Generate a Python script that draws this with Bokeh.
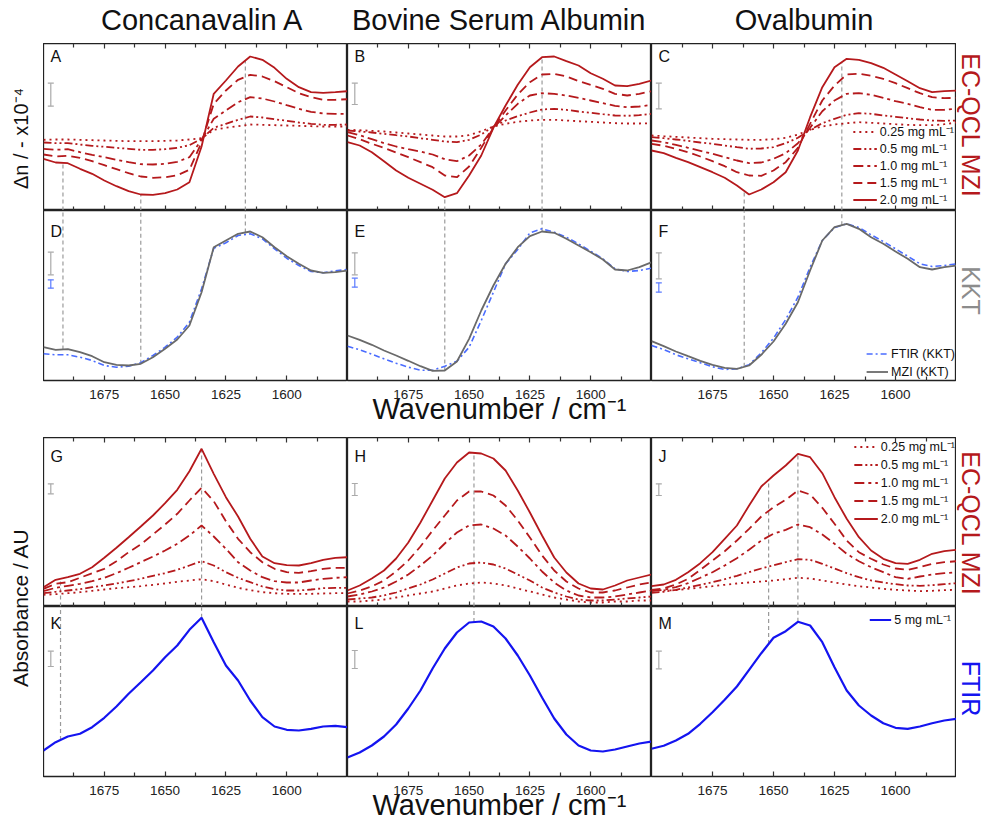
import numpy as np
from bokeh.plotting import figure
from bokeh.models import Range1d, FixedTicker, LinearAxis, Legend, LegendItem, Label
from bokeh.layouts import row, column
from bokeh.embed import file_html
from bokeh.resources import INLINE
from bokeh.core.properties import value

# ---------------------------------------------------------------- data
wavenumber = [1700, 1695, 1690, 1685, 1680, 1675, 1670, 1665, 1660, 1655, 1650, 1645, 1640,
              1635, 1630, 1625, 1620, 1615, 1610, 1605, 1600, 1595, 1590, 1585, 1580, 1575]
x_ticks = [1675, 1650, 1625, 1600]
x_minor_ticks = [1687.5, 1662.5, 1637.5, 1612.5, 1587.5]
proteins = ["Concanavalin A", "Bovine Serum Albumin", "Ovalbumin"]
concentration_labels = ["0.25 mg mL\u207b\u00b9", "0.5 mg mL\u207b\u00b9", "1.0 mg mL\u207b\u00b9",
                        "1.5 mg mL\u207b\u00b9", "2.0 mg mL\u207b\u00b9"]
kkt_labels = ["FTIR (KKT)", "MZI (KKT)"]
ftir_label = "5 mg mL\u207b\u00b9"

# refractive index change (EC-QCL MZI), arbitrary units
conA_dn_025 = [70.7, 71.0, 71.0, 70.7, 70.3, 70.0, 69.7, 69.3, 69.3, 69.3, 69.7, 70.0, 71.0, 72.3, 80.7, 82.7, 84.3, 86.0, 85.7, 85.3, 85.0, 84.7, 84.3, 84.0, 84.0, 84.0]
conA_dn_05 = [68.0, 67.3, 67.3, 66.0, 64.7, 63.7, 62.7, 61.7, 60.7, 60.7, 61.3, 62.7, 65.3, 71.7, 82.7, 86.7, 90.7, 94.0, 93.0, 91.3, 89.7, 88.0, 86.7, 85.7, 85.7, 86.0]
conA_dn_10 = [61.7, 60.7, 61.3, 58.3, 55.7, 53.3, 50.7, 48.3, 46.3, 46.0, 46.7, 48.7, 53.3, 70.7, 91.7, 100.0, 108.3, 113.3, 112.0, 109.0, 105.3, 101.7, 98.7, 97.0, 96.7, 96.7]
conA_dn_15 = [56.0, 54.0, 54.7, 52.7, 49.3, 45.3, 41.3, 37.3, 34.0, 32.7, 33.3, 35.3, 40.7, 68.3, 106.7, 120.0, 130.7, 135.7, 134.0, 129.3, 123.3, 117.3, 113.3, 110.7, 110.7, 111.3]
conA_dn_20 = [51.7, 48.0, 47.3, 41.7, 36.7, 30.0, 24.3, 19.3, 16.0, 15.7, 17.3, 21.0, 28.3, 64.0, 116.7, 130.0, 144.0, 154.0, 150.7, 142.7, 131.7, 123.3, 118.3, 117.7, 118.3, 119.3]

bsa_dn_025 = [80.7, 80.3, 79.7, 79.0, 78.0, 77.0, 76.0, 75.0, 74.0, 74.0, 75.3, 79.3, 84.0, 86.7, 88.7, 90.0, 90.7, 90.7, 90.0, 89.3, 88.7, 88.0, 87.3, 87.0, 87.0, 87.3]
bsa_dn_05 = [80.0, 79.0, 78.0, 76.7, 75.3, 74.0, 72.3, 70.7, 69.0, 68.3, 70.7, 76.0, 84.0, 90.0, 94.3, 98.0, 101.0, 101.7, 100.7, 99.0, 97.7, 96.3, 95.0, 94.7, 95.3, 96.7]
bsa_dn_10 = [78.3, 75.3, 71.3, 67.3, 64.0, 61.3, 59.0, 56.0, 51.3, 49.3, 55.0, 66.0, 82.7, 95.0, 106.7, 115.0, 117.3, 116.7, 115.0, 112.7, 110.0, 107.3, 104.7, 103.3, 104.0, 105.7]
bsa_dn_15 = [75.0, 71.3, 66.7, 62.7, 58.0, 53.3, 48.3, 43.3, 35.0, 33.3, 44.0, 62.7, 82.7, 100.0, 116.0, 128.3, 136.0, 136.7, 134.0, 129.3, 125.7, 121.7, 116.7, 115.0, 116.7, 119.3]
bsa_dn_20 = [68.3, 65.0, 58.3, 49.3, 40.0, 32.7, 26.7, 20.7, 13.3, 17.3, 35.0, 55.0, 82.7, 105.0, 125.7, 143.3, 153.3, 154.0, 149.3, 145.0, 137.3, 131.7, 125.0, 124.3, 126.7, 130.0]

ova_dn_025 = [75.0, 74.3, 73.7, 73.0, 72.3, 71.7, 71.3, 71.0, 70.7, 70.7, 71.3, 72.7, 76.0, 80.7, 84.0, 86.0, 87.3, 88.3, 87.7, 87.0, 86.3, 85.7, 85.3, 85.3, 86.3, 88.0]
ova_dn_05 = [73.3, 72.3, 71.0, 69.7, 68.0, 66.7, 65.0, 63.3, 61.7, 62.0, 63.3, 67.3, 72.7, 80.7, 87.3, 91.7, 95.7, 97.3, 96.7, 95.0, 93.7, 92.3, 91.0, 90.0, 89.7, 90.0]
ova_dn_10 = [70.0, 68.3, 65.7, 62.7, 59.7, 56.7, 53.3, 50.0, 47.3, 48.0, 51.7, 57.3, 67.3, 82.7, 99.3, 110.0, 116.7, 117.3, 115.7, 112.7, 109.3, 106.7, 103.3, 100.7, 100.7, 101.7]
ova_dn_15 = [66.7, 64.7, 61.7, 58.3, 54.0, 49.3, 44.3, 38.3, 35.0, 34.7, 40.0, 48.3, 62.7, 86.7, 110.0, 125.0, 136.0, 136.7, 134.7, 131.7, 127.3, 122.3, 117.3, 113.3, 112.3, 112.7]
ova_dn_20 = [60.0, 57.3, 52.7, 48.3, 43.3, 38.3, 32.7, 25.0, 16.0, 21.0, 28.3, 38.3, 60.0, 93.3, 123.3, 143.3, 151.7, 150.7, 147.3, 142.7, 136.0, 129.3, 122.3, 118.3, 119.3, 120.0]

# Kramers-Kronig transformed spectra, arbitrary units
conA_kkt_mzi = [33.3, 30.7, 31.3, 28.3, 24.3, 18.3, 15.7, 15.0, 16.7, 23.3, 31.7, 41.0, 55.0, 88.3, 133.3, 140.0, 146.7, 149.0, 143.3, 133.3, 124.3, 116.7, 110.0, 107.7, 108.3, 110.0]
conA_kkt_ftir = [26.7, 25.7, 25.7, 23.3, 20.0, 15.0, 13.3, 14.3, 17.7, 25.0, 33.3, 43.3, 58.3, 91.7, 132.3, 137.7, 145.0, 146.7, 141.7, 131.7, 122.3, 115.0, 109.0, 107.7, 109.7, 111.0]
bsa_kkt_mzi = [45.0, 40.7, 35.7, 30.0, 25.0, 19.7, 14.3, 9.7, 10.0, 19.0, 41.7, 70.0, 95.0, 116.7, 133.3, 144.3, 149.0, 147.7, 141.7, 135.0, 128.3, 121.0, 111.0, 110.0, 113.3, 118.3]
bsa_kkt_ftir = [34.3, 30.7, 26.3, 21.7, 17.3, 13.3, 10.3, 10.3, 14.3, 19.3, 33.3, 60.0, 88.3, 116.7, 131.0, 147.7, 151.7, 148.3, 143.3, 136.7, 129.3, 121.7, 111.7, 109.0, 110.0, 112.3]
ova_kkt_mzi = [39.3, 34.3, 29.0, 24.3, 19.7, 15.7, 12.7, 11.7, 15.0, 25.7, 39.0, 56.7, 78.3, 110.0, 140.0, 153.3, 156.7, 151.7, 143.3, 136.7, 129.0, 121.7, 113.3, 111.0, 113.3, 115.0]
ova_kkt_ftir = [35.0, 31.0, 25.7, 21.7, 17.7, 13.7, 11.0, 11.7, 15.7, 27.7, 42.3, 61.0, 83.3, 113.3, 140.0, 153.0, 156.7, 153.0, 145.7, 139.0, 131.7, 124.3, 116.7, 114.0, 115.0, 116.7]

# absorbance (EC-QCL MZI), arbitrary units
conA_abs_025 = [11.7, 12.3, 13.3, 14.3, 15.7, 17.0, 18.3, 19.3, 20.3, 21.7, 23.0, 24.7, 26.0, 27.3, 25.3, 22.0, 18.7, 16.3, 14.3, 13.3, 12.7, 12.7, 12.7, 13.0, 13.3, 13.3]
conA_abs_05 = [13.3, 14.7, 16.0, 17.3, 19.3, 21.0, 23.0, 25.3, 27.7, 30.7, 33.3, 36.7, 41.0, 45.3, 41.0, 34.3, 28.7, 24.3, 20.0, 17.3, 16.0, 16.0, 17.0, 18.3, 18.7, 18.7]
conA_abs_10 = [15.3, 18.7, 20.7, 22.7, 25.3, 28.7, 33.3, 38.7, 44.3, 50.0, 56.0, 62.7, 71.0, 81.0, 70.0, 57.7, 44.3, 36.0, 29.3, 25.3, 24.0, 24.0, 26.0, 27.7, 28.7, 29.3]
conA_abs_15 = [17.7, 22.7, 24.3, 28.7, 33.3, 37.7, 45.3, 54.3, 62.0, 72.0, 82.0, 92.7, 106.0, 118.7, 105.3, 85.3, 67.7, 54.3, 44.3, 37.7, 34.3, 33.7, 35.3, 37.7, 38.7, 38.7]
conA_abs_20 = [19.3, 26.7, 29.3, 32.7, 39.3, 48.7, 58.7, 69.3, 80.0, 91.0, 103.3, 116.7, 135.3, 157.7, 132.7, 109.3, 90.0, 67.7, 50.0, 43.3, 41.3, 41.0, 43.3, 46.7, 48.7, 49.3]

bsa_abs_025 = [5, 5, 6, 7, 9, 11, 13, 15, 18, 21, 23, 24, 23, 21, 18, 15, 12, 9, 7, 5, 4, 4, 5, 5, 6, 6]
bsa_abs_05 = [7, 8, 9, 11, 14, 18, 22, 27, 33, 39, 43, 44, 42, 38, 32, 26, 19, 14, 10, 7, 6, 6, 7, 8, 9, 10]
bsa_abs_10 = [10, 12, 15, 19, 25, 32, 41, 51, 63, 74, 81, 82, 78, 71, 60, 48, 35, 24, 16, 11, 9, 9, 10, 12, 14, 16]
bsa_abs_15 = [13, 16, 20, 26, 35, 46, 60, 76, 91, 106, 115, 115, 111, 101, 86, 69, 51, 36, 25, 18, 14, 14, 16, 19, 22, 24]
bsa_abs_20 = [16, 21, 28, 36, 48, 64, 84, 106, 128, 144, 154, 153, 148, 136, 116, 94, 71, 49, 34, 23, 18, 17, 21, 26, 29, 32]

ova_abs_025 = [16.7, 16.0, 16.3, 17.7, 19.0, 20.3, 21.7, 23.0, 24.0, 25.0, 26.0, 27.3, 28.7, 28.0, 26.0, 24.0, 22.0, 20.3, 19.0, 17.7, 16.7, 16.0, 15.3, 15.7, 16.3, 16.7]
ova_abs_05 = [13.7, 14.7, 16.7, 19.0, 21.7, 24.3, 27.3, 30.7, 34.3, 38.0, 41.3, 44.3, 47.3, 46.7, 42.7, 38.0, 33.3, 29.3, 26.0, 24.0, 22.3, 21.0, 20.7, 21.3, 22.3, 23.3]
ova_abs_10 = [15.3, 16.7, 19.3, 23.3, 28.7, 34.3, 41.0, 48.3, 56.7, 66.0, 72.7, 76.7, 82.0, 79.3, 72.0, 62.7, 52.7, 45.3, 39.3, 34.3, 29.3, 27.7, 30.0, 32.0, 33.3, 34.3]
ova_abs_15 = [16.7, 18.0, 22.0, 27.7, 36.7, 46.0, 55.3, 66.0, 77.7, 90.0, 99.3, 106.7, 116.0, 112.0, 98.7, 82.7, 66.0, 54.3, 47.7, 42.0, 38.0, 36.7, 39.3, 42.7, 44.3, 45.3]
ova_abs_20 = [20.3, 22.0, 26.7, 34.3, 43.3, 54.3, 67.7, 81.0, 101.0, 120.0, 131.0, 141.0, 152.7, 149.3, 133.3, 109.3, 87.7, 69.3, 56.0, 47.7, 43.3, 42.7, 46.7, 52.7, 55.3, 56.7]

# FTIR absorbance (5 mg/mL), arbitrary units
conA_ftir = [26.0, 34.3, 40.0, 42.7, 49.3, 58.7, 70.0, 82.7, 94.3, 106.0, 119.3, 131.0, 146.7, 158.7, 134.3, 111.0, 96.0, 76.0, 59.3, 50.0, 46.7, 46.0, 47.7, 50.0, 50.7, 49.3]
bsa_ftir = [19, 24, 31, 40, 52, 68, 86, 108, 128, 144, 154, 155, 150, 138, 121, 101, 79, 58, 42, 31, 26, 25, 27, 30, 33, 35]
ova_ftir = [27.7, 30.7, 36.0, 42.7, 52.7, 64.3, 76.7, 90.0, 106.7, 123.3, 138.7, 145.3, 154.7, 151.0, 134.3, 109.3, 86.0, 71.0, 61.0, 53.3, 48.7, 47.7, 50.0, 53.3, 56.0, 57.7]

# marked band positions (cm-1)
dn_marks = [[1692, 1660, 1617], [1660, 1620], [1662, 1622]]
abs_marks = [[1693, 1635], [1648], [1652, 1640]]

# scale bars: (top, bottom) in the panel's units, drawn at scale_bar_wn
scale_bar_wn = 1697
dn_bars = [(127.3, 104.3), (127.3, 106.0), (127.3, 101.7)]
kkt_mzi_bars = [(128.3, 105.7), (127.7, 105.7), (127.7, 101.7)]
kkt_ftir_bars = [(100.7, 92.3), (102.3, 93.3), (97.7, 88.3)]
abs_bars = [(122.7, 112.7), (123.0, 111.0), (122.7, 111.0)]
ftir_bars = [(125.3, 110.0), (126.0, 108.0), (125.3, 107.7)]

dn_sets = [[conA_dn_025, conA_dn_05, conA_dn_10, conA_dn_15, conA_dn_20],
           [bsa_dn_025, bsa_dn_05, bsa_dn_10, bsa_dn_15, bsa_dn_20],
           [ova_dn_025, ova_dn_05, ova_dn_10, ova_dn_15, ova_dn_20]]
kkt_mzi = [conA_kkt_mzi, bsa_kkt_mzi, ova_kkt_mzi]
kkt_ftir = [conA_kkt_ftir, bsa_kkt_ftir, ova_kkt_ftir]
abs_sets = [[conA_abs_025, conA_abs_05, conA_abs_10, conA_abs_15, conA_abs_20],
            [bsa_abs_025, bsa_abs_05, bsa_abs_10, bsa_abs_15, bsa_abs_20],
            [ova_abs_025, ova_abs_05, ova_abs_10, ova_abs_15, ova_abs_20]]
ftir_abs = [conA_ftir, bsa_ftir, ova_ftir]

# ---------------------------------------------------------------- style
FONT = "Liberation Sans"
RED = "#B5191C"
GREY_LINE = "#6a6a6a"
BLUE = "#1414F0"
BLUE_KKT = "#4a6cff"
GUIDE = "#9a9a9a"
BAR_GREY = "#aaaaaa"
BAR_BLUE = "#5a7aff"
CONC_DASH = ["2 4", "8 3 2 3 2 3", "10 4 3 4", "9 5", "solid"]

COL_W = [304, 304, 305]
FRAME_H = [167, 170, 169, 170]
BOTTOM_B = [0, 57, 0, 48]
LEFT_W, RIGHT_W, TITLE_H = 43, 28, 43
LETTERS = ["ABC", "DEF", "GHJ", "KLM"]
LETTER_DY = [-4, -12, -10, -8]
TITLE_SHIFT = [7, 0, 0]


def style_axis(ax, labels):
    ax.ticker = FixedTicker(ticks=x_ticks, minor_ticks=x_minor_ticks)
    ax.axis_line_color = None
    ax.major_tick_in = 5
    ax.major_tick_out = 0
    ax.minor_tick_in = 4
    ax.minor_tick_out = 0
    ax.major_tick_line_color = "#333333"
    ax.minor_tick_line_color = "#333333"
    ax.major_tick_line_width = 1.2
    ax.minor_tick_line_width = 1.2
    if labels:
        ax.major_label_text_font = FONT
        ax.major_label_text_font_size = "13.5px"
        ax.major_label_text_color = "#222222"
        ax.major_label_standoff = 9
    else:
        ax.major_label_text_color = None
        ax.major_label_standoff = 0


def make_panel(ci, ri):
    p = figure(width=COL_W[ci], height=FRAME_H[ri] + BOTTOM_B[ri],
               x_range=Range1d(1700, 1575), y_range=Range1d(0, FRAME_H[ri]),
               output_backend="svg", toolbar_location=None,
               min_border_left=0, min_border_right=0, min_border_top=0,
               min_border_bottom=BOTTOM_B[ri])
    p.title.visible = False
    p.grid.visible = False
    p.yaxis.visible = False
    p.outline_line_color = "#222222"
    p.outline_line_width = 1.3
    if ri in (0, 2):
        p.xaxis[0].fixed_location = 0
        p.add_layout(LinearAxis(fixed_location=FRAME_H[ri]), "above")
        for ax in p.xaxis:
            style_axis(ax, False)
    else:
        for ax in p.xaxis:
            style_axis(ax, True)
    p.add_layout(Label(x=1700, y=FRAME_H[ri], x_offset=7, y_offset=LETTER_DY[ri],
                       text=LETTERS[ri][ci], text_baseline="top", text_align="left",
                       text_font=FONT, text_font_size="16px", text_color="#111111"))
    return p


def at(w, ys):
    return float(np.interp(w, wavenumber[::-1], ys[::-1]))


def scale_bar(p, top, bottom, color):
    p.segment(x0=[scale_bar_wn], y0=[bottom], x1=[scale_bar_wn], y1=[top],
              line_color=color, line_width=1.2)
    p.scatter(x=[scale_bar_wn, scale_bar_wn], y=[bottom, top], marker="dash", size=6,
              line_color=color, line_width=1.2)


def guides(p, marks, curve, upper):
    for w in marks:
        yc = at(w, curve)
        if upper:
            y0, y1 = 0, yc
        else:
            y0, y1 = yc, p.y_range.end
        p.segment(x0=[w], y0=[y0], x1=[w], y1=[y1], line_color=GUIDE,
                  line_dash="4 3", line_width=1.2)


def legend(p, items, loc, margin, padding, spacing, glyph_w):
    lg = Legend(items=items, location=loc, margin=margin, padding=padding, spacing=spacing,
                glyph_width=glyph_w, glyph_height=15, label_height=15, label_standoff=3,
                label_text_font=FONT, label_text_font_size="12.5px",
                label_text_color="#111111", background_fill_alpha=0,
                border_line_color=None)
    p.add_layout(lg)


def x_title(ax):
    ax.axis_label = "Wavenumber / cm\u207b\u00b9"
    ax.axis_label_text_font = FONT
    ax.axis_label_text_font_size = "29px"
    ax.axis_label_text_font_style = "normal"
    ax.axis_label_text_color = "#111111"
    ax.axis_label_standoff = -9


rows = [[], [], [], []]
for ci in range(3):
    # row 1: EC-QCL MZI refractive index change
    p = make_panel(ci, 0)
    guides(p, dn_marks[ci], dn_sets[ci][4], True)
    rs = [p.line(wavenumber, dn_sets[ci][k], line_color=RED, line_width=1.8,
                 line_dash=CONC_DASH[k]) for k in range(5)]
    scale_bar(p, *dn_bars[ci], BAR_GREY)
    if ci == 2:
        legend(p, [LegendItem(label=concentration_labels[k], renderers=[rs[k]]) for k in range(5)],
               "bottom_right", 2, 3, 0, 24)
    rows[0].append(p)

    # row 2: KKT
    p = make_panel(ci, 1)
    guides(p, dn_marks[ci], kkt_mzi[ci], False)
    rf = p.line(wavenumber, kkt_ftir[ci], line_color=BLUE_KKT, line_width=1.6, line_dash="6 3 2 3")
    rm = p.line(wavenumber, kkt_mzi[ci], line_color=GREY_LINE, line_width=1.8)
    scale_bar(p, *kkt_mzi_bars[ci], BAR_GREY)
    scale_bar(p, *kkt_ftir_bars[ci], BAR_BLUE)
    if ci == 1:
        x_title(p.below[0])
    if ci == 2:
        legend(p, [LegendItem(label=kkt_labels[0], renderers=[rf]),
                   LegendItem(label=kkt_labels[1], renderers=[rm])],
               "bottom_right", 1, 3, 3, 22)
    rows[1].append(p)

    # row 3: EC-QCL MZI absorbance
    p = make_panel(ci, 2)
    guides(p, abs_marks[ci], abs_sets[ci][4], True)
    rs = [p.line(wavenumber, abs_sets[ci][k], line_color=RED, line_width=1.8,
                 line_dash=CONC_DASH[k]) for k in range(5)]
    scale_bar(p, *abs_bars[ci], BAR_GREY)
    if ci == 2:
        legend(p, [LegendItem(label=concentration_labels[k], renderers=[rs[k]]) for k in range(5)],
               "top_right", 1, 2, 1, 24)
    rows[2].append(p)

    # row 4: FTIR absorbance
    p = make_panel(ci, 3)
    guides(p, abs_marks[ci], ftir_abs[ci], False)
    rb = p.line(wavenumber, ftir_abs[ci], line_color=BLUE, line_width=2.2)
    scale_bar(p, *ftir_bars[ci], BAR_GREY)
    if ci == 1:
        x_title(p.below[0])
    if ci == 2:
        legend(p, [LegendItem(label=ftir_label, renderers=[rb])], "top_right", 5, 3, 0, 22)
    rows[3].append(p)


def strip(w, h):
    s = figure(width=w, height=h, x_range=Range1d(0, w), y_range=Range1d(0, h),
               output_backend="svg", toolbar_location=None,
               min_border_left=0, min_border_right=0, min_border_top=0, min_border_bottom=0)
    s.title.visible = False
    s.axis.visible = False
    s.grid.visible = False
    s.outline_line_color = None
    return s


def strip_text(s, x, y, txt, size, color, angle):
    s.text(x=[x], y=[y], text=[txt], text_font=value(FONT), text_font_size=value(size),
           text_color=color, text_align="center", text_baseline="middle", angle=angle)


TOP_H = FRAME_H[0] + FRAME_H[1] + BOTTOM_B[1]
BOT_H = FRAME_H[2] + FRAME_H[3] + BOTTOM_B[3]
TOTAL_W = LEFT_W + sum(COL_W) + RIGHT_W

title_strip = strip(TOTAL_W, TITLE_H)
cx = LEFT_W
for ci in range(3):
    strip_text(title_strip, cx + COL_W[ci] / 2 + TITLE_SHIFT[ci], 24, proteins[ci], "29px",
               "#111111", 0)
    cx += COL_W[ci]

left_top = strip(LEFT_W, TOP_H)
strip_text(left_top, 20, 299, "\u0394n / - x10\u207b\u2074", "20px", "#111111", np.pi / 2)
left_bot = strip(LEFT_W, BOT_H)
strip_text(left_bot, 20, 217, "Absorbance / AU", "21px", "#111111", np.pi / 2)

right_top = strip(RIGHT_W, TOP_H)
strip_text(right_top, 14, 312, "EC-QCL MZI", "25px", RED, -np.pi / 2)
strip_text(right_top, 14, 147, "KKT", "25px", "#8c8c8c", -np.pi / 2)
right_bot = strip(RIGHT_W, BOT_H)
strip_text(right_bot, 14, 301, "EC-QCL MZI", "25px", RED, -np.pi / 2)
strip_text(right_bot, 14, 136, "FTIR", "25px", BLUE, -np.pi / 2)

top_block = row(left_top, column(row(*rows[0]), row(*rows[1])), right_top)
bot_block = row(left_bot, column(row(*rows[2]), row(*rows[3])), right_bot)
layout = column(title_strip, top_block, bot_block)

open("out.html", "w").write(file_html(layout, INLINE))
